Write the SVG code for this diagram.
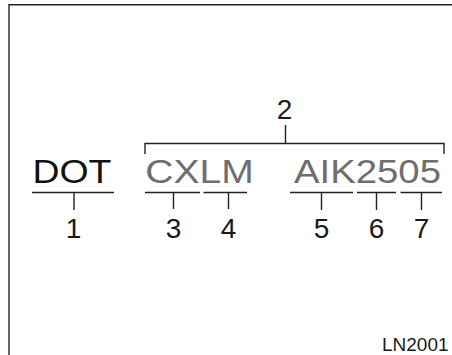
<svg xmlns="http://www.w3.org/2000/svg" width="452" height="355" viewBox="0 0 452 355">
<style>
.big{font-family:"Liberation Sans",Arial,sans-serif;font-size:34px}
.num{font-family:"Liberation Sans",Arial,sans-serif;font-size:28px;fill:#1a1a1a;text-anchor:middle}
.ln{stroke:#222;stroke-width:1.4;fill:none}
</style>
<rect width="452" height="355" fill="#fff"/>
<path class="ln" d="M9 355V4.7H452" stroke="#333"/>
<g id="dot">
<text class="big" x="32.4" y="182.5" fill="#111" textLength="79" lengthAdjust="spacingAndGlyphs">DOT</text>
</g>
<g id="cxlm">
<text class="big" x="145.3" y="182.5" fill="#6e6e6e" textLength="108.5" lengthAdjust="spacingAndGlyphs">CXLM</text>
</g>
<g id="aik">
<text class="big" x="294" y="182.5" fill="#6e6e6e" textLength="147" lengthAdjust="spacingAndGlyphs">AIK2505</text>
</g>
<g id="n1"><text class="num" x="73.5" y="238">1</text></g>
<g id="n2"><text class="num" x="284.5" y="118.5">2</text></g>
<g id="n3"><text class="num" x="173.5" y="238">3</text></g>
<g id="n4"><text class="num" x="228.5" y="238">4</text></g>
<g id="n5"><text class="num" x="321.5" y="238">5</text></g>
<g id="n6"><text class="num" x="376.5" y="238">6</text></g>
<g id="n7"><text class="num" x="421.5" y="238">7</text></g>
<g id="connectors">
<path class="ln" d="M145 154V143.5H444V154M285.5 125V143.5"/>
<path class="ln" d="M32 192.5H114M74 192.5V210"/>
<path class="ln" d="M145 192.5H200M173.5 192.5V209"/>
<path class="ln" d="M203.5 192.5H247M228.5 192.5V209"/>
<path class="ln" d="M290 192.5H353M321.5 192.5V210"/>
<path class="ln" d="M357 192.5H396M376.5 192.5V210"/>
<path class="ln" d="M400.5 192.5H442M421.5 192.5V210"/>
</g>
<text x="382" y="351" font-family="'Liberation Sans',Arial,sans-serif" font-size="19" fill="#1a1a1a">LN2001</text>
</svg>
